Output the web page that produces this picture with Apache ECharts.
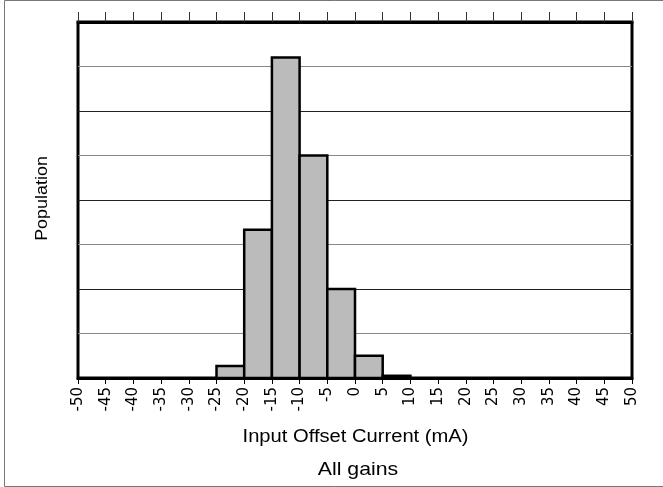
<!DOCTYPE html>
<html>
<head>
<meta charset="utf-8">
<script src="https://cdn.jsdelivr.net/npm/echarts@6/dist/echarts.min.js"></script>
<style>html,body{margin:0;padding:0;background:#fff}#c{width:663px;height:487px}</style>
</head>
<body>
<div id="c"></div>
<script>
var binStarts = [-25, -20, -15, -10, -5, 0, 5];
var binWidth = 5;
var counts = [0.27, 3.33, 7.2, 5.0, 2.0, 0.5, 0.05];
var xTicks = [-50,-45,-40,-35,-30,-25,-20,-15,-10,-5,0,5,10,15,20,25,30,35,40,45,50];
var xTitle = 'Input Offset Current (mA)';
var yTitle = 'Population';
var subTitle = 'All gains';

var data = binStarts.map(function (s, i) { return [s, s + binWidth, counts[i]]; });
var font = '"Liberation Sans", Arial, sans-serif';
var tickFont = '"DejaVu Sans", sans-serif';
var chart = echarts.init(document.getElementById('c'), null, {renderer: 'canvas'});
chart.setOption({
  animation: false,
  backgroundColor: '#fff',
  grid: {left: 78, right: 31, top: 22, bottom: 109, show: true, borderColor: '#000', borderWidth: 3},
  graphic: [
    {type: 'rect', shape: {x: 4.5, y: 0.5, width: 662, height: 486}, style: {fill: 'none', stroke: '#777', lineWidth: 1}, silent: true, z: 100},
    {type: 'text', x: 355.5, y: 437, scaleX: 1.12, style: {text: xTitle, font: '18px ' + font, fill: '#000', align: 'center', verticalAlign: 'middle'}},
    {type: 'text', x: 358, y: 470, scaleX: 1.12, style: {text: subTitle, font: '19px ' + font, fill: '#000', align: 'center', verticalAlign: 'middle'}},
    {type: 'text', x: 43, y: 198.5, rotation: Math.PI / 2, scaleX: 1.12, style: {text: yTitle, font: '16px ' + font, fill: '#000', align: 'center', verticalAlign: 'middle'}}
  ],
  xAxis: [{
    type: 'value', min: -50, max: 50, interval: 5, position: 'bottom',
    axisLine: {show: true, onZero: false, lineStyle: {color: '#000', width: 3}},
    axisTick: {show: true, length: 6, lineStyle: {color: '#000', width: 1}},
    axisLabel: {rotate: 90, margin: 9, fontSize: 15, fontFamily: tickFont, color: '#000',
      customValues: xTicks,
      formatter: function (v) { return String(v); }},
    splitLine: {show: false}
  }, {
    type: 'value', min: -50, max: 50, interval: 5, position: 'top',
    axisLine: {show: true, onZero: false, lineStyle: {color: '#000', width: 3}},
    axisTick: {show: true, length: 10, lineStyle: {color: '#333', width: 1}},
    axisLabel: {show: false},
    splitLine: {show: false}
  }],
  yAxis: {
    type: 'value', min: 0, max: 8, interval: 1,
    axisLine: {show: false}, axisTick: {show: false}, axisLabel: {show: false},
    splitLine: {show: true, lineStyle: {color: ['#222', '#888'], width: 1}}
  },
  series: [{
    type: 'custom',
    xAxisIndex: 0,
    data: data,
    encode: {x: [0, 1], y: 2},
    renderItem: function (params, api) {
      var p0 = api.coord([api.value(0), api.value(2)]);
      var p1 = api.coord([api.value(1), 0]);
      return {
        type: 'rect',
        shape: {x: p0[0], y: p0[1], width: p1[0] - p0[0], height: p1[1] - p0[1]},
        style: {fill: '#bbbbbb', stroke: '#000', lineWidth: 2.5}
      };
    }
  }]
});
</script>
</body>
</html>
